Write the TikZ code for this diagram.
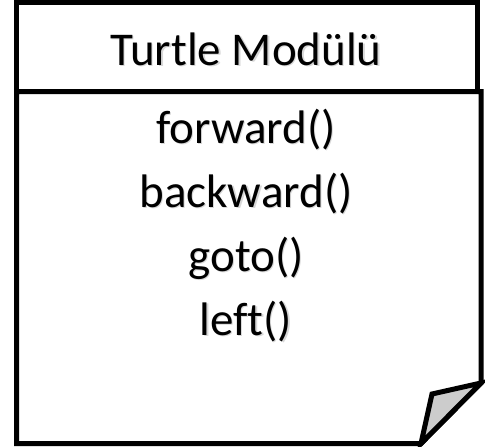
\documentclass[tikz,border=0pt]{standalone}
\usepackage{fontspec}
\setmainfont[Ligatures={NoCommon}]{Carlito}
\begin{document}
\begin{tikzpicture}[x=1pt,y=-1pt,
  frame/.style={draw=black,line width=5pt,fill=white},
  flap/.style={draw=black,line width=5pt,fill=black!20,line join=miter},
  label/.style={anchor=base,inner sep=0pt,font=\fontsize{47}{56}\selectfont},
  shade/.style={label,text=black!30,opacity=0.5}]
  \useasboundingbox (0,0) rectangle (485,447);
  % body of the module card, with a turned-down corner
  \draw[frame] (16.5,91.5) -- (481,91.5) -- (481,383) -- (421,443.5)
               -- (16.5,443.5) -- cycle;
  \draw[flap] (481,383) -- (432,394) -- (421,443.5) -- cycle;
  % title bar
  \draw[frame] (16.5,2.5) rectangle (477,91.5);
  % soft text shadows
  \foreach \n/\t/\y in {s0/Turtle Modülü/65, s1/forward()/143, s2/backward()/207,
                        s3/goto()/271, s4/left()/335}
    \node[shade] (\n) at (247.2,\y+1.2) {\t};
  % title and members
  \node[label] (title) at (246,65) {Turtle Modülü};
  \node[label] (m1) at (246,143) {forward()};
  \node[label] (m2) at (246,207) {backward()};
  \node[label] (m3) at (246,271) {goto()};
  \node[label] (m4) at (246,335) {left()};
\end{tikzpicture}
\end{document}
